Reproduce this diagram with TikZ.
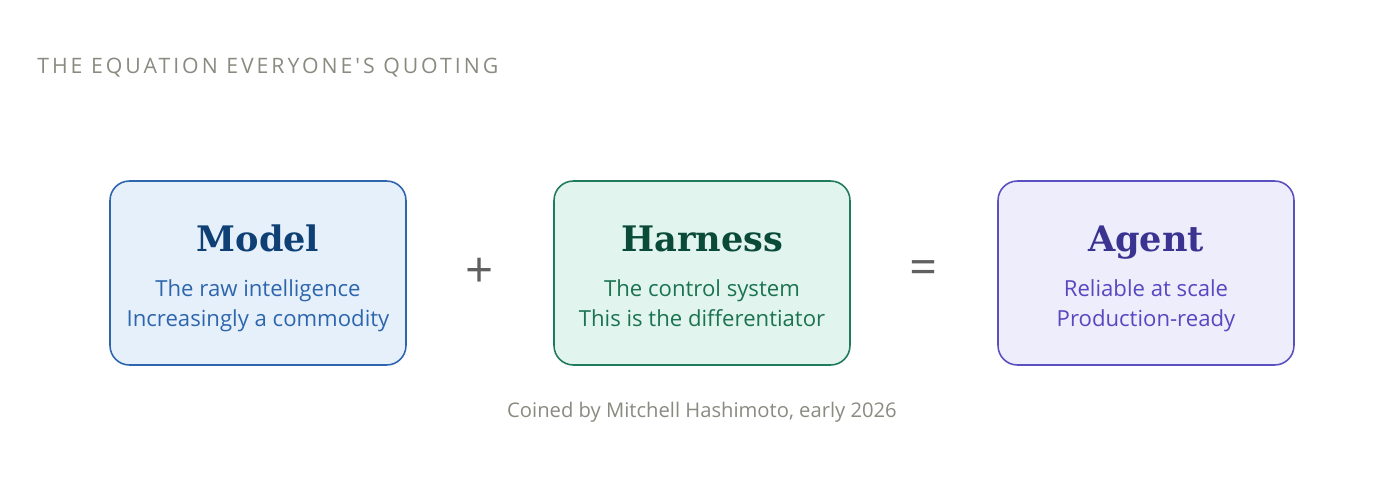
\documentclass[tikz,border=0pt]{standalone}
\usepackage{fontspec}
\usepackage{xcolor}
\usepackage{tikz}
\usetikzlibrary{positioning, calc}
\setmainfont{Open Sans}
\newfontfamily\headfont[LetterSpace=14]{Open Sans}
\newfontfamily\titlefont{DejaVu Serif}
\definecolor{headgray}{HTML}{8A8A80}
\definecolor{opgray}{HTML}{606060}
\definecolor{modelfill}{HTML}{E6F0FB}
\definecolor{modeldraw}{HTML}{2E66AE}
\definecolor{modeltitle}{HTML}{0E3F75}
\definecolor{harnfill}{HTML}{E1F5EE}
\definecolor{harndraw}{HTML}{217A5B}
\definecolor{harntitle}{HTML}{0A4A39}
\definecolor{harnsub}{HTML}{1B7352}
\definecolor{agentfill}{HTML}{EEEDFC}
\definecolor{agentdraw}{HTML}{5A50C0}
\definecolor{agenttitle}{HTML}{3A3390}
\definecolor{agentsub}{HTML}{5548C0}

\tikzset{
  box/.style={draw, line width=0.9pt, rounded corners=11pt, minimum width=5.92cm, minimum height=3.68cm},
  ttl/.style={anchor=base, font=\titlefont\bfseries\fontsize{20}{24}\selectfont},
  sub/.style={anchor=base, align=center, font=\fontsize{12.6}{17}\selectfont},
  oper/.style={text=opgray, font=\fontsize{28}{28}\selectfont}
}

\begin{document}
\begin{tikzpicture}[x=0.02cm, y=-0.02cm]
				\useasboundingbox (0,0) rectangle (1400,490);
				\node[anchor=base west, inner sep=0pt, text=headgray, font=\headfont\fontsize{12.1}{14}\selectfont] (head) at (37,73) {THE EQUATION EVERYONE'S QUOTING};
				
				\node[box, fill=modelfill, draw=modeldraw] (model) at (258,273) {};
				\node[box, fill=harnfill, draw=harndraw] (harness) at (702,273) {};
				\node[box, fill=agentfill, draw=agentdraw] (agent) at (1146,273) {};
				
				\node[ttl, text=modeltitle] (modelttl) at ($(model.north)+(0,71)$) {Model};
				\node[sub, text=modeldraw] (modelsub) at ($(model.north)+(0,146)$) {The raw intelligence\\Increasingly a commodity};
				\node[ttl, text=harntitle] (harnttl) at ($(harness.north)+(0,71)$) {Harness};
				\node[sub, text=harnsub] (harnsub) at ($(harness.north)+(0,146)$) {The control system\\This is the differentiator};
				\node[ttl, text=agenttitle] (agentttl) at ($(agent.north)+(0,71)$) {Agent};
				\node[sub, text=agentsub] (agentsub) at ($(agent.north)+(0,146)$) {Reliable at scale\\Production-ready};
				
				\node[oper] (plus) at ($(model.east)!0.5!(harness.west)$) {+};
				\node[oper] (equals) at ($(harness.east)!0.5!(agent.west)$) {=};
				
				\node[anchor=base, text=headgray, font=\fontsize{11.5}{13}\selectfont] (foot) at (702,417) {Coined by Mitchell Hashimoto, early 2026};
\end{tikzpicture}
\end{document}
